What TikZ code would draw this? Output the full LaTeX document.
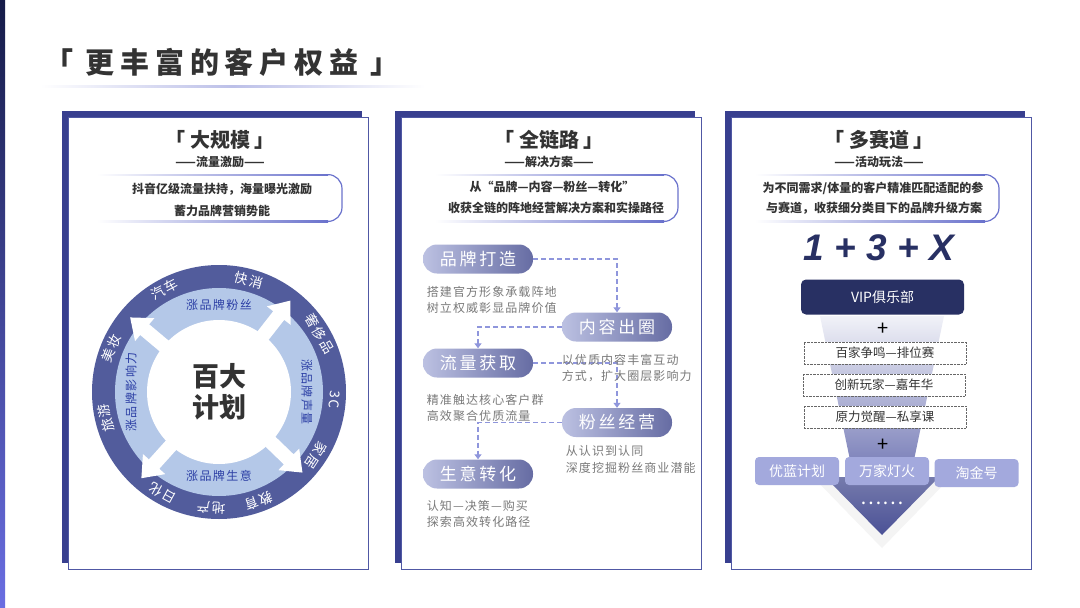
\documentclass[tikz,border=0pt]{standalone}
\usepackage{fontspec}
\setmainfont{Noto Sans CJK SC}
\newfontfamily\titlefont[LetterSpace=20]{Noto Sans CJK SC}
\newfontfamily\pillfont[LetterSpace=16]{Noto Sans CJK SC}
\newfontfamily\notefont[LetterSpace=9]{Noto Sans CJK SC}
\newfontfamily\ringfont[LetterSpace=12]{Noto Sans CJK SC}
\newfontfamily\numfont{Liberation Sans}
\usetikzlibrary{arrows.meta}

\definecolor{barnavy}{HTML}{151B48}
\definecolor{barblue}{HTML}{6A6EE2}
\definecolor{panelblue}{HTML}{383F8F}
\definecolor{frameblue}{HTML}{5058A4}
\definecolor{boxline}{HTML}{6A72CC}
\definecolor{inkgray}{HTML}{333333}
\definecolor{notegray}{HTML}{7A7A7A}
\definecolor{ringdark}{HTML}{525C9C}
\definecolor{ringlight}{HTML}{B4C8E8}
\definecolor{ringtext}{HTML}{2C3FA5}
\definecolor{pillleft}{HTML}{BCC1E2}
\definecolor{pillright}{HTML}{666CA3}
\definecolor{dashblue}{HTML}{8F96DC}
\definecolor{vipnavy}{HTML}{283063}
\definecolor{funneltop}{HTML}{F1F2F8}
\definecolor{funnelbot}{HTML}{8085BC}
\definecolor{tipblue}{HTML}{4B5196}
\definecolor{chanblue}{HTML}{A3A9DD}

\begin{document}
\begin{tikzpicture}[x=1pt, y=-1pt,
  headline/.style={font=\bfseries\fontsize{20}{22}\selectfont, text=inkgray},
  subline/.style={font=\bfseries\fontsize{12}{14}\selectfont, text=inkgray},
  boxtext/.style={font=\bfseries\fontsize{12}{14}\selectfont, text=inkgray},
  pill/.style={rounded corners=14pt, minimum width=110pt, minimum height=29pt, left color=pillleft, right color=pillright, text=white, font=\pillfont\fontsize{17}{18}\selectfont},
  notes/.style={anchor=north west, inner sep=0pt, align=left, text=notegray, font=\notefont\fontsize{12}{16.5}\selectfont},
  flowline/.style={dashblue, line width=1.2pt, dash pattern=on 5pt off 3pt, -{Triangle[length=5pt,width=7pt]}},
  slot/.style={draw=gray!80!black, densely dotted, fill=white, minimum width=162pt, minimum height=22pt, font=\fontsize{12.5}{14}\selectfont, text=inkgray},
  chan/.style={fill=chanblue, rounded corners=4pt, minimum width=84pt, minimum height=28pt, text=white, font=\fontsize{14}{16}\selectfont},
  ringlabel/.style={font=\ringfont\fontsize{12}{14}\selectfont, text=ringtext, inner sep=0pt},
  tradelabel/.style={font=\ringfont\fontsize{13.5}{15}\selectfont, text=white, inner sep=0pt}]
\useasboundingbox (0,0) rectangle (1080,608);
\fill[white] (0,0) rectangle (1080,608);
\shade[top color=barnavy, bottom color=barblue] (0,0) rectangle (5,608);

\node[font=\titlefont\bfseries\fontsize{29}{31}\selectfont, text=inkgray] (title) at (222,62) {「\ 更丰富的客户权益\ 」};
\shade[left color=white, right color=white, middle color=boxline!45] (40,85.5) rectangle (425,87);

\foreach \x in {62,395,725} {
  \fill[panelblue] (\x,111) rectangle (\x+300,563);
  \draw[frameblue, fill=white, line width=0.8pt] (\x+6,117) rectangle (\x+306,569);
}

\foreach \cx/\head/\sub [count=\i] in {220/大规模/流量激励, 549/全链路/解决方案, 879/多赛道/活动玩法} {
  \node[headline] (head\i) at (\cx,140) {「\ \head\ 」};
  \node[subline] (sub\i) at (\cx,162) {——\sub——};
}

\foreach \l/\r in {97/342, 435/678, 755/999} {
  \shade[left color=white, right color=boxline] (\l,174) rectangle (\r-14,175.2);
  \shade[left color=white, right color=boxline] (\l,220.8) rectangle (\r-14,222);
  \draw[boxline, line width=1.2pt, rounded corners=14pt] (\r-16,174.6) -- (\r,174.6) -- (\r,221.4) -- (\r-16,221.4);
}

\node[boxtext] (scale1) at (222,189) {抖音亿级流量扶持，海量曝光激励};
\node[boxtext] (scale2) at (222,211) {蓄力品牌营销势能};
\node[boxtext] (chain1) at (552,187) {从“品牌—内容—粉丝—转化”};
\node[boxtext] (chain2) at (556,208) {收获全链的阵地经营解决方案和实操路径};
\node[boxtext] (track1) at (873,188) {为不同需求/体量的客户精准匹配适配的参};
\node[boxtext] (track2) at (874,208) {与赛道，收获细分类目下的品牌升级方案};

\begin{scope}[shift={(219,392)}, y=1pt]
  \fill[ringdark] (0,0) circle (127pt);
  \fill[ringlight] (0,0) circle (104pt);
  \fill[white] (0,0) circle (72pt);
  \foreach \a in {52,140,228,316}
    \fill[white, rotate=\a] (66,-7) -- (97,-7) -- (97,-15) -- (116,0) -- (97,15) -- (97,7) -- (66,7) -- cycle;
  \node[font=\bfseries\fontsize{27}{31}\selectfont, text=inkgray, align=center] (plan) at (0,0) {百大\\计划};
  \node[ringlabel] (fans) at (0,87) {涨品牌粉丝};
  \node[ringlabel] (deal) at (0,-84) {涨品牌生意};
  \node[ringlabel, rotate=90] (power) at (-88,0) {涨品牌影响力};
  \node[ringlabel, rotate=-90] (voice) at (88,0) {涨品牌声量};
  \foreach \a/\t [count=\i] in {118/汽车, 75/快消, 30/奢侈品, -4/3C, -33/家居, -70/教育, -94/地产, -119/日化, 193/旅游, 158/美妆}
    \node[tradelabel, rotate=\a-90] (trade\i) at (\a:116) {\t};
\end{scope}

\node[pill] (brand) at (478,259) {品牌打造};
\node[pill] (content) at (617,327) {内容出圈};
\node[pill] (traffic) at (478,363) {流量获取};
\node[pill] (fanbase) at (617,422.5) {粉丝经营};
\node[pill] (convert) at (478,474) {生意转化};

\draw[flowline] (brand.east) -| (content.north);
\draw[flowline] (content.west) -| (traffic.north);
\draw[flowline] (traffic.east) -| (fanbase.north);
\draw[flowline] (fanbase.west) -| (convert.north);

\node[notes] (brandnote) at (426.7,285.7) {搭建官方形象承载阵地\\树立权威彰显品牌价值};
\node[notes] (contentnote) at (561.7,354) {以优质内容丰富互动\\方式，扩大圈层影响力};
\node[notes] (trafficnote) at (426.7,394) {精准触达核心客户群\\高效聚合优质流量};
\node[notes] (fannote) at (565.7,445.7) {从认识到认同\\深度挖掘粉丝商业潜能};
\node[notes] (convertnote) at (426.7,500) {认知—决策—购买\\探索高效转化路径};

\node[font=\numfont\bfseries\itshape\fontsize{37}{40}\selectfont, text=vipnavy] (formula) at (879,247.5) {1 + 3 + X};

\shade[top color=funneltop, bottom color=funnelbot] (820,316) -- (944,316) -- (914,460) -- (850,460) -- cycle;
\fill[gray!9] (813,477) -- (951,477) -- (882,548) -- cycle;
\shade[top color=pillright!90, bottom color=tipblue] (825,477) -- (939,477) -- (882,535) -- cycle;

\node[fill=vipnavy, rounded corners=5pt, minimum width=163pt, minimum height=35pt, text=white, font=\fontsize{14}{16}\selectfont] (vip) at (882.5,297) {VIP俱乐部};
\node[font=\fontsize{20}{20}\selectfont] (plus1) at (882.7,329.3) {+};
\node[slot] (rank) at (885,352.8) {百家争鸣—排位赛};
\node[slot] (carnival) at (884,385) {创新玩家—嘉年华};
\node[slot] (lesson) at (885,417) {原力觉醒—私享课};
\node[font=\fontsize{20}{20}\selectfont] (plus2) at (883.3,445) {+};
\node[chan] (youlan) at (797,471) {优蓝计划};
\node[chan] (wanjia) at (887,471) {万家灯火};
\node[chan] (taojin) at (976.5,473) {淘金号};
\node[font=\fontsize{20}{20}\selectfont, text=white] (more) at (882,503) {……};
\end{tikzpicture}
\end{document}
